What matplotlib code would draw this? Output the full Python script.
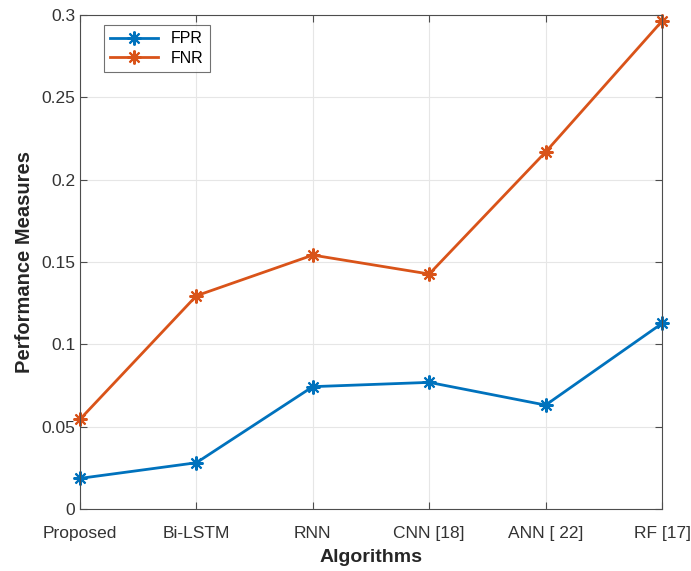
import matplotlib
matplotlib.use('Agg')
import matplotlib.pyplot as plt

# data
algorithms = ['Proposed', 'Bi-LSTM', 'RNN', 'CNN [18]', 'ANN [ 22]', 'RF [17]']
fpr = [0.0186, 0.0281, 0.0743, 0.0769, 0.0631, 0.1127]
fnr = [0.0545, 0.1295, 0.1542, 0.1427, 0.2168, 0.2963]
yticks = [0, 0.05, 0.1, 0.15, 0.2, 0.25, 0.3]
ytick_labels = ['0', '0.05', '0.1', '0.15', '0.2', '0.25', '0.3']

plt.rcParams['font.family'] = ['Liberation Sans', 'DejaVu Sans']

fig = plt.figure(figsize=(6.91, 5.71), dpi=100)
ax = fig.add_axes([80 / 691, 1 - 509 / 571, 582 / 691, 494 / 571])

x = list(range(len(algorithms)))
star = (8, 2, 0)  # matlab style asterisk
ax.plot(x, fpr, color='#0072BD', marker=star, markersize=10, markeredgewidth=1.5,
        linewidth=2, label='FPR', clip_on=False)
ax.plot(x, fnr, color='#D95319', marker=star, markersize=10, markeredgewidth=1.5,
        linewidth=2, label='FNR', clip_on=False)

ax.set_xlim(0, len(algorithms) - 1)
ax.set_ylim(0, 0.3)
ax.set_xticks(x)
ax.set_xticklabels(algorithms)
ax.set_yticks(yticks)
ax.set_yticklabels(ytick_labels)

ax.grid(True, color='#e6e6e6', linewidth=0.8)
ax.set_axisbelow(True)
ax.tick_params(direction='in', colors='#4d4d4d', labelcolor='#333333', labelsize=12.5, length=5,
               top=True, right=True, labeltop=False, labelright=False)
ax.tick_params(axis='x', pad=12)
for s in ax.spines.values():
    s.set_color('#4d4d4d')
    s.set_linewidth(0.8)

ax.set_xlabel('Algorithms', fontsize=14, fontweight='bold', color='#262626', labelpad=6)
ax.set_ylabel('Performance Measures', fontsize=14.5, fontweight='bold', color='#262626', labelpad=5)

leg = ax.legend(loc='upper left', bbox_to_anchor=(0.033, 0.99), fontsize=11.5, fancybox=False,
                edgecolor='#4d4d4d', handlelength=3, borderaxespad=0.3, labelspacing=0.3)
leg.get_frame().set_linewidth(0.8)

fig.savefig('out.png', dpi=100)
